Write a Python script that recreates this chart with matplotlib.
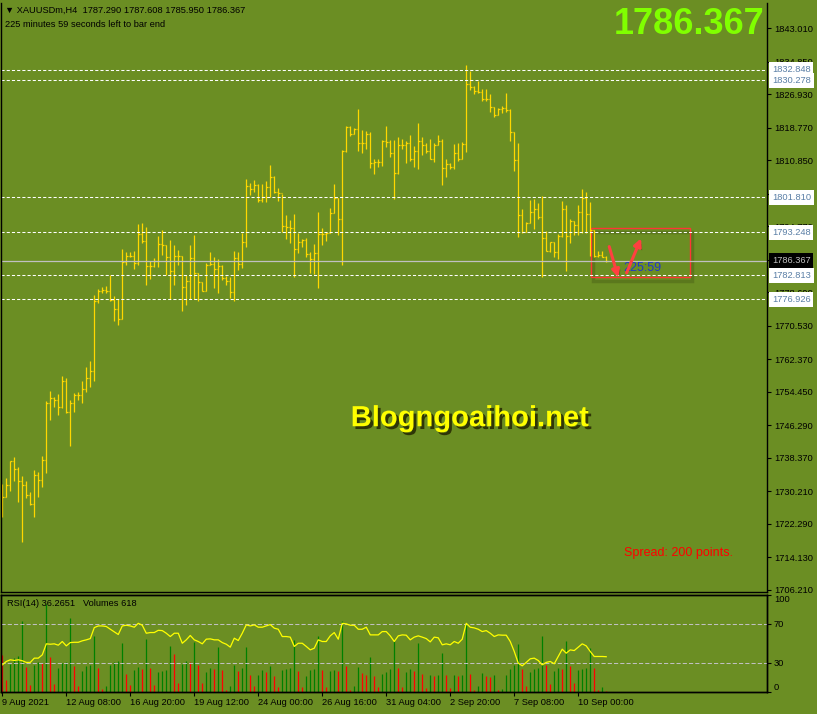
import numpy as np
import matplotlib.pyplot as plt
import matplotlib.patheffects as pe
import matplotlib.transforms as mtransforms
from matplotlib.patches import Rectangle

plt.rcParams['font.family'] = ['Liberation Sans', 'DejaVu Sans']

BG = '#6b8e23'

# H4 bars, XAUUSDm, 9 Aug 2021 -> 10 Sep 2021
first_open = 1730.55
highs = [
    1732.00, 1733.47, 1737.68, 1738.50, 1736.07, 1733.95, 1732.66, 1730.06, 1735.41, 1734.93,
    1738.82, 1752.14, 1754.57, 1753.26, 1753.92, 1758.30, 1757.81, 1752.45, 1754.23, 1754.40,
    1757.15, 1760.56, 1762.02, 1778.09, 1779.40, 1779.89, 1780.20, 1782.81, 1777.77, 1776.97,
    1789.14, 1788.48, 1788.48, 1788.80, 1795.30, 1795.47, 1794.49, 1786.36, 1787.02, 1792.37,
    1793.84, 1790.26, 1791.40, 1790.26, 1788.97, 1787.51, 1782.81, 1790.11, 1792.69, 1783.30,
    1781.18, 1785.73, 1788.48, 1787.19, 1786.70, 1785.39, 1782.64, 1782.32, 1788.65, 1788.48,
    1793.18, 1806.25, 1805.35, 1806.01, 1805.03, 1805.03, 1805.84, 1809.73, 1806.98, 1804.06,
    1802.60, 1797.49, 1796.27, 1797.73, 1793.18, 1791.72, 1791.82, 1788.48, 1790.43, 1798.22,
    1794.33, 1793.35, 1799.19, 1805.03, 1801.63, 1813.31, 1819.15, 1819.15, 1818.67, 1823.22,
    1818.18, 1818.01, 1817.69, 1811.19, 1811.05, 1815.75, 1819.15, 1815.75, 1815.75, 1816.40,
    1816.06, 1815.43, 1816.89, 1814.28, 1819.81, 1816.40, 1814.94, 1815.92, 1814.94, 1816.89,
    1816.06, 1811.05, 1810.07, 1814.77, 1815.09, 1815.26, 1834.00, 1832.62, 1828.89, 1830.18,
    1828.09, 1828.09, 1826.94, 1823.85, 1823.54, 1824.02, 1827.26, 1823.22, 1817.69, 1814.94,
    1799.02, 1795.79, 1801.14, 1801.46, 1800.34, 1802.11, 1793.52, 1790.92, 1790.92, 1792.87,
    1800.82, 1799.85, 1796.59, 1796.10, 1799.85, 1803.74, 1803.21, 1800.65, 1793.84, 1788.73,
    1788.80, 1787.608]
lows = [
    1724.05, 1728.77, 1730.38, 1732.81, 1727.70, 1717.96, 1728.52, 1726.97, 1724.05, 1728.91,
    1731.20, 1734.76, 1747.59, 1750.83, 1748.88, 1750.51, 1749.36, 1741.26, 1749.53, 1752.45,
    1751.80, 1754.40, 1755.69, 1757.15, 1776.00, 1778.43, 1778.43, 1776.63, 1771.76, 1770.79,
    1772.10, 1785.39, 1787.34, 1784.42, 1785.39, 1790.60, 1780.52, 1782.03, 1784.90, 1784.90,
    1787.83, 1782.95, 1776.97, 1780.52, 1785.39, 1774.05, 1775.65, 1776.97, 1776.97, 1776.48,
    1778.92, 1778.92, 1785.25, 1779.72, 1778.43, 1781.66, 1780.38, 1777.28, 1776.48, 1784.10,
    1784.50, 1789.77, 1802.36, 1803.16, 1800.73, 1800.73, 1800.73, 1801.94, 1802.92, 1800.97,
    1793.42, 1791.72, 1790.74, 1782.32, 1788.31, 1789.77, 1787.19, 1783.44, 1783.13, 1779.72,
    1790.11, 1791.23, 1793.03, 1797.90, 1792.55, 1785.25, 1812.82, 1816.72, 1817.10, 1813.14,
    1812.65, 1813.63, 1808.93, 1807.47, 1809.25, 1809.42, 1814.12, 1811.54, 1801.46, 1807.47,
    1813.48, 1810.22, 1810.56, 1809.25, 1808.61, 1812.02, 1812.65, 1811.05, 1810.39, 1814.60,
    1804.72, 1806.81, 1808.76, 1808.76, 1810.56, 1811.19, 1812.82, 1827.92, 1826.94, 1827.11,
    1825.17, 1825.31, 1822.56, 1821.27, 1821.76, 1822.25, 1822.56, 1815.43, 1808.27, 1792.21,
    1793.03, 1793.35, 1795.61, 1794.15, 1796.59, 1782.32, 1788.65, 1788.48, 1787.19, 1786.70,
    1792.21, 1783.78, 1790.74, 1792.55, 1792.69, 1793.18, 1793.03, 1787.51, 1787.34, 1787.34,
    1787.19, 1785.950]
closes = [
    1728.77, 1731.69, 1737.53, 1735.73, 1732.66, 1731.69, 1729.25, 1727.06, 1734.12, 1732.98,
    1737.85, 1751.72, 1752.94, 1752.45, 1750.83, 1757.01, 1749.53, 1751.80, 1753.60, 1753.60,
    1755.20, 1757.81, 1759.44, 1776.63, 1778.92, 1779.23, 1778.92, 1776.80, 1774.68, 1772.24,
    1786.05, 1787.51, 1787.51, 1785.88, 1792.87, 1791.23, 1785.07, 1785.07, 1786.29, 1790.43,
    1790.11, 1787.19, 1783.78, 1787.51, 1787.51, 1779.89, 1781.50, 1787.02, 1783.30, 1781.18,
    1779.06, 1785.25, 1785.56, 1784.42, 1785.07, 1782.15, 1781.35, 1778.75, 1787.02, 1785.56,
    1790.92, 1804.55, 1803.74, 1804.79, 1801.14, 1801.94, 1804.23, 1806.81, 1803.09, 1802.92,
    1794.81, 1794.64, 1794.25, 1789.14, 1790.92, 1791.40, 1788.00, 1786.85, 1788.31, 1792.87,
    1792.87, 1793.18, 1798.05, 1801.63, 1796.59, 1813.00, 1818.98, 1817.21, 1818.35, 1814.94,
    1814.94, 1817.21, 1810.07, 1810.46, 1810.39, 1815.58, 1815.26, 1812.65, 1807.79, 1814.60,
    1814.45, 1815.09, 1811.19, 1813.00, 1815.43, 1814.60, 1813.00, 1811.05, 1814.60, 1815.43,
    1808.93, 1809.90, 1809.25, 1812.51, 1811.05, 1814.77, 1829.38, 1828.58, 1827.60, 1827.43,
    1825.65, 1825.80, 1823.85, 1821.76, 1823.37, 1823.54, 1823.05, 1817.69, 1810.88, 1797.42,
    1793.35, 1795.61, 1798.22, 1799.02, 1797.07, 1791.89, 1788.65, 1790.92, 1788.48, 1792.37,
    1798.87, 1792.37, 1795.96, 1794.98, 1798.22, 1801.63, 1797.73, 1793.84, 1787.51, 1787.68,
    1787.290, 1786.367]

volumes = [
    22200, 7200, 16800, 20400, 21600, 42600, 15000, 4200, 16200, 18000,
    17400, 52800, 21000, 4800, 14400, 17400, 18000, 44400, 15600, 3600,
    12600, 15600, 16200, 33600, 14400, 1800, 3600, 16200, 18000, 18600,
    29400, 10800, 4200, 13200, 15000, 13800, 31800, 14400, 4200, 12000,
    12600, 13200, 27600, 22800, 5400, 16800, 18600, 18000, 30000, 16200,
    5400, 12000, 14400, 13800, 27000, 13200, 1200, 3600, 16200, 12600,
    14400, 27000, 10200, 3600, 10200, 13200, 12000, 15600, 9600, 3000,
    13200, 13800, 14400, 31200, 12600, 3000, 9600, 13200, 13800, 33600,
    13200, 3000, 12600, 13200, 12600, 42600, 15600, 1200, 3600, 15000,
    11400, 10200, 21000, 9600, 3000, 10800, 12000, 13800, 30600, 14400,
    3000, 12000, 13800, 12600, 29400, 10800, 2400, 10200, 9600, 10200,
    23400, 10200, 2400, 10200, 9600, 10200, 40800, 10800, 1200, 3600,
    11400, 9600, 9000, 10200, 1200, 1800, 10200, 13800, 16200, 28800,
    13800, 3600, 12000, 13800, 14400, 33600, 16200, 4800, 12600, 14400,
    13800, 30600, 15600, 5400, 13200, 13800, 14400, 26400, 14400, 1200,
    3000, 618]

rsi = [
    27.9, 31.4, 33.1, 32.4, 33.1, 32.1, 30.4, 30.4, 34.8, 34.8,
    38.2, 49.5, 49.1, 49.5, 48.1, 51.9, 47.4, 50.8, 51.1, 51.1,
    52.6, 53.6, 54.9, 66.2, 67.9, 67.9, 67.3, 64.5, 61.8, 59.1,
    67.9, 68.6, 67.9, 66.6, 70.6, 68.6, 60.4, 61.1, 61.1, 63.4,
    63.1, 60.4, 57.0, 60.4, 60.4, 50.1, 53.6, 58.1, 53.6, 51.9,
    49.5, 54.3, 54.6, 53.6, 53.6, 50.8, 49.1, 46.1, 55.3, 52.9,
    60.4, 69.0, 67.9, 69.0, 66.6, 66.6, 67.9, 69.3, 65.6, 64.5,
    57.0, 57.0, 56.4, 46.8, 50.1, 50.1, 46.8, 43.3, 45.0, 53.6,
    51.9, 51.9, 57.7, 61.1, 54.3, 70.6, 70.0, 68.6, 68.6, 64.5,
    64.5, 66.6, 58.7, 58.7, 58.7, 62.1, 62.1, 57.7, 51.9, 57.7,
    58.7, 58.4, 53.6, 56.4, 57.7, 56.4, 54.9, 51.5, 56.4, 55.7,
    48.5, 49.5, 48.5, 51.9, 50.1, 54.3, 70.6, 66.6, 65.9, 64.5,
    62.1, 63.1, 60.4, 57.0, 58.7, 58.4, 58.4, 51.9, 41.7, 29.7,
    26.9, 30.4, 34.1, 34.8, 32.4, 27.9, 30.4, 31.4, 29.0, 36.5,
    44.0, 39.9, 43.3, 42.6, 46.1, 49.5, 47.4, 41.7, 36.5, 36.5,
    36.5, 36.2651]

price_ticks = [1843.010, 1834.850, 1826.930, 1818.770, 1810.850, 1802.690, 1794.770,
               1786.610, 1778.690, 1770.530, 1762.370, 1754.450, 1746.290, 1738.370,
               1730.210, 1722.290, 1714.130, 1706.210]
level_prices = [1832.848, 1830.278, 1801.810, 1793.248, 1782.813, 1776.926]
bid = 1786.367

date_pos = [0, 16, 32, 48, 64, 80, 96, 112, 128, 144]
date_labels = ['9 Aug 2021', '12 Aug 08:00', '16 Aug 20:00', '19 Aug 12:00', '24 Aug 00:00',
               '26 Aug 16:00', '31 Aug 04:00', '2 Sep 20:00', '7 Sep 08:00', '10 Sep 00:00']

# drawn objects (bar index / price anchors)
box_bars = [147.2, 171.9]
box_prices = [1782.4, 1794.3]
arrow_down = [(151.75, 1789.8), (154.0, 1782.3)]
arrow_up = [(156.1, 1783.4), (159.7, 1791.8)]

n = len(closes)
x = np.arange(n)
opens = [first_open] + closes[:-1]

fig = plt.figure(figsize=(8.17, 7.14), dpi=100, facecolor=BG)
ax = fig.add_axes([1 / 817, 122 / 714, 766 / 817, 589 / 714], facecolor=BG)
axv = fig.add_axes([1 / 817, 22 / 714, 766 / 817, 97.3 / 714], facecolor=BG)

bar_col = '#ffd700'
ax.vlines(x, lows, highs, color=bar_col, lw=0.9)
ax.hlines(opens, x - 0.35, x, color=bar_col, lw=0.9)
ax.hlines(closes, x, x + 0.35, color=bar_col, lw=0.9)

ax.set_xlim(-0.325, 191.2)
ax.set_ylim(1705.72, 1849.10)
ax.set_xticks([])
ax.yaxis.tick_right()
ax.set_yticks(price_ticks)
ax.set_yticklabels([f'{v:.3f}' for v in price_ticks])
ax.tick_params(axis='y', direction='out', length=3, width=0.8, pad=2,
               labelsize=6.7, colors='black')
ax.spines['top'].set_visible(False)
for s in ['left', 'right', 'bottom']:
    ax.spines[s].set_color('black')
    ax.spines[s].set_linewidth(1)

trans = mtransforms.blended_transform_factory(ax.transAxes, ax.transData)
for lv in level_prices:
    ax.axhline(lv, color='white', lw=0.75, ls=(0, (3, 2)))
    ax.text(1.0065, lv, f'{lv:.3f}', transform=trans, ha='left', va='center',
            fontsize=6.7, color='#5a7fa6', clip_on=False, zorder=6,
            bbox=dict(boxstyle='square,pad=0.3', fc='white', ec='none'))
ax.axhline(bid, color='#c0c0c0', lw=0.9)
ax.text(1.0065, bid, f'{bid:.3f}', transform=trans, ha='left', va='center',
        fontsize=6.7, color='#c0c0c0', clip_on=False, zorder=6,
        bbox=dict(boxstyle='square,pad=0.3', fc='black', ec='none'))

# header texts
ax.text(0.005, 0.988, '\u25bc XAUUSDm,H4  1787.290 1787.608 1785.950 1786.367',
        transform=ax.transAxes, fontsize=6.7, va='center', ha='left', color='black')
ax.text(0.005, 0.964, '225 minutes 59 seconds left to bar end',
        transform=ax.transAxes, fontsize=6.7, va='center', ha='left', color='black')
ax.text(0.997, 0.963, f'{bid:.3f}', transform=ax.transAxes, ha='right', va='center',
        fontsize=26, fontweight='bold', color='#80ff00')
ax.text(0.612, 0.295, 'Blogngoaihoi.net', transform=ax.transAxes, ha='center', va='center',
        fontsize=21, fontweight='bold', color='#ffff00',
        path_effects=[pe.withSimplePatchShadow(offset=(2, -2), shadow_rgbFace='#202000', alpha=0.8)])
ax.text(0.813, 0.066, 'Spread: 200 points.', transform=ax.transAxes, ha='left', va='center',
        fontsize=9, color='#ff0000')

# trade drawing
ax.add_patch(Rectangle((box_bars[0] + 0.6, box_prices[0] - 1.0), box_bars[1] - box_bars[0],
                       box_prices[1] - box_prices[0], fill=False, ec='black', lw=2.5, alpha=0.15))
ax.add_patch(Rectangle((box_bars[0], box_prices[0]), box_bars[1] - box_bars[0],
                       box_prices[1] - box_prices[0], fill=False, ec='#ff3535', lw=1))
ax.text(155.2, 1784.66, '225:59', ha='left', va='center', fontsize=9, color='#2035cc')
for a in (arrow_down, arrow_up):
    ax.annotate('', xy=a[1], xytext=a[0],
                arrowprops=dict(arrowstyle='-|>', color='#ff4040', lw=2.2, mutation_scale=11,
                                shrinkA=0, shrinkB=0,
                                path_effects=[pe.withSimplePatchShadow(offset=(1.5, -1.5), alpha=0.3)]))

# indicator window: volumes + RSI(14)
vol_colors = ['#ff0000' if i == 0 or volumes[i] <= volumes[i - 1] else '#008000' for i in range(n)]
axv.vlines(x, 0, volumes, colors=vol_colors, lw=0.9)
axv.set_xlim(-0.325, 191.2)
axv.set_ylim(0, 58400)
axv.set_yticks([])
axv.set_xticks(date_pos)
axv.set_xticklabels(date_labels, ha='left')
axv.tick_params(axis='x', direction='out', length=3, width=0.8, pad=1.5,
                labelsize=6.7, colors='black')
for s in axv.spines.values():
    s.set_color('black')
    s.set_linewidth(1)

axr = axv.twinx()
axr.axhline(70, color='#c0c0c0', lw=0.75, ls=(0, (4, 2)))
axr.axhline(30, color='#c0c0c0', lw=0.75, ls=(0, (4, 2)))
axr.plot(x, rsi, color='#ffff00', lw=0.9)
axr.set_ylim(0, 100)
axr.set_yticks([0, 30, 70, 100])
axr.set_yticklabels(['0', '30', '70', '100'])
axr.tick_params(axis='y', direction='out', length=3, width=0.8, pad=2,
                labelsize=6.7, colors='black')
ylabs = axr.get_yticklabels()
ylabs[0].set_va('bottom')
ylabs[3].set_va('top')
for s in axr.spines.values():
    s.set_color('black')
    s.set_linewidth(1)
axr.text(0.008, 0.905, 'RSI(14) 36.2651   Volumes 618', transform=axr.transAxes,
         fontsize=6.7, va='center', ha='left', color='black')

fig.savefig('out.png', dpi=100, facecolor=BG)
